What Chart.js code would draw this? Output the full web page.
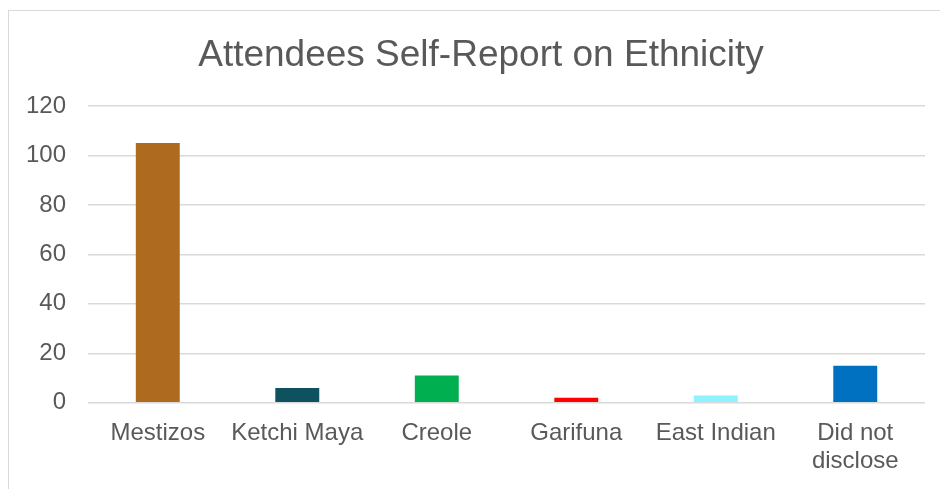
<!DOCTYPE html>
<html>
<head>
<meta charset="utf-8">
<script src="https://cdn.jsdelivr.net/npm/chart.js@4/dist/chart.umd.min.js"></script>
<style>
  body { margin: 0; background: #fff; overflow: hidden; }
  .frame {
    position: absolute;
    left: 8px;
    top: 10px;
    width: 1000px;
    height: 600px;
    border: 1px solid #d9d9d9;
  }
  #wrap { position: absolute; left: 0; top: 0; width: 940px; height: 489px; }
</style>
</head>
<body>
<div class="frame"></div>
<div id="wrap"><canvas id="chart" width="940" height="489"></canvas></div>
<script>
const chartTitle = 'Attendees Self-Report on Ethnicity';
const categories = ['Mestizos', 'Ketchi Maya', 'Creole', 'Garifuna', 'East Indian', ['Did not', 'disclose']];
const attendees = [105, 6, 11, 2, 3, 15];
const barColors = ['#ae6a1e', '#0e5260', '#00b050', '#ff0000', '#8ef2ff', '#0070c0'];
const yTicks = [0, 20, 40, 60, 80, 100, 120];

const textColor = '#595959';
const fontFamily = '"Liberation Sans", Arial, sans-serif';

// title is centred on the whole frame (not on the plot area), so draw it by hand
const frameTitle = {
  id: 'frameTitle',
  afterDraw(chart) {
    const ctx = chart.ctx;
    ctx.save();
    ctx.font = `37px ${fontFamily}`;
    ctx.fillStyle = textColor;
    ctx.textAlign = 'center';
    ctx.textBaseline = 'alphabetic';
    ctx.fillText(chartTitle, 481, 66);
    ctx.restore();
  },
};

new Chart(document.getElementById('chart'), {
  type: 'bar',
  data: {
    labels: categories,
    datasets: [
      {
        data: attendees,
        backgroundColor: barColors,
        borderWidth: 0,
        categoryPercentage: 1,
        barPercentage: 0.315,
      },
    ],
  },
  options: {
    responsive: false,
    animation: false,
    layout: {
      padding: { left: 4, right: 15, top: 106, bottom: 5 },
    },
    plugins: {
      legend: { display: false },
      tooltip: { enabled: false },
      title: { display: false },
    },
    scales: {
      x: {
        grid: { display: false },
        border: { display: false },
        ticks: {
          color: textColor,
          font: { family: fontFamily, size: 24, lineHeight: 1.15 },
          padding: 9,
          maxRotation: 0,
          autoSkip: false,
        },
      },
      y: {
        min: yTicks[0],
        max: yTicks[yTicks.length - 1],
        afterBuildTicks: axis => {
          axis.ticks = yTicks.map(v => ({ value: v }));
        },
        grid: { color: '#d9d9d9', lineWidth: 1.5, drawTicks: false },
        border: { display: false },
        ticks: {
          color: textColor,
          font: { family: fontFamily, size: 24 },
          padding: 22,
        },
      },
    },
  },
  plugins: [frameTitle],
});
</script>
</body>
</html>
